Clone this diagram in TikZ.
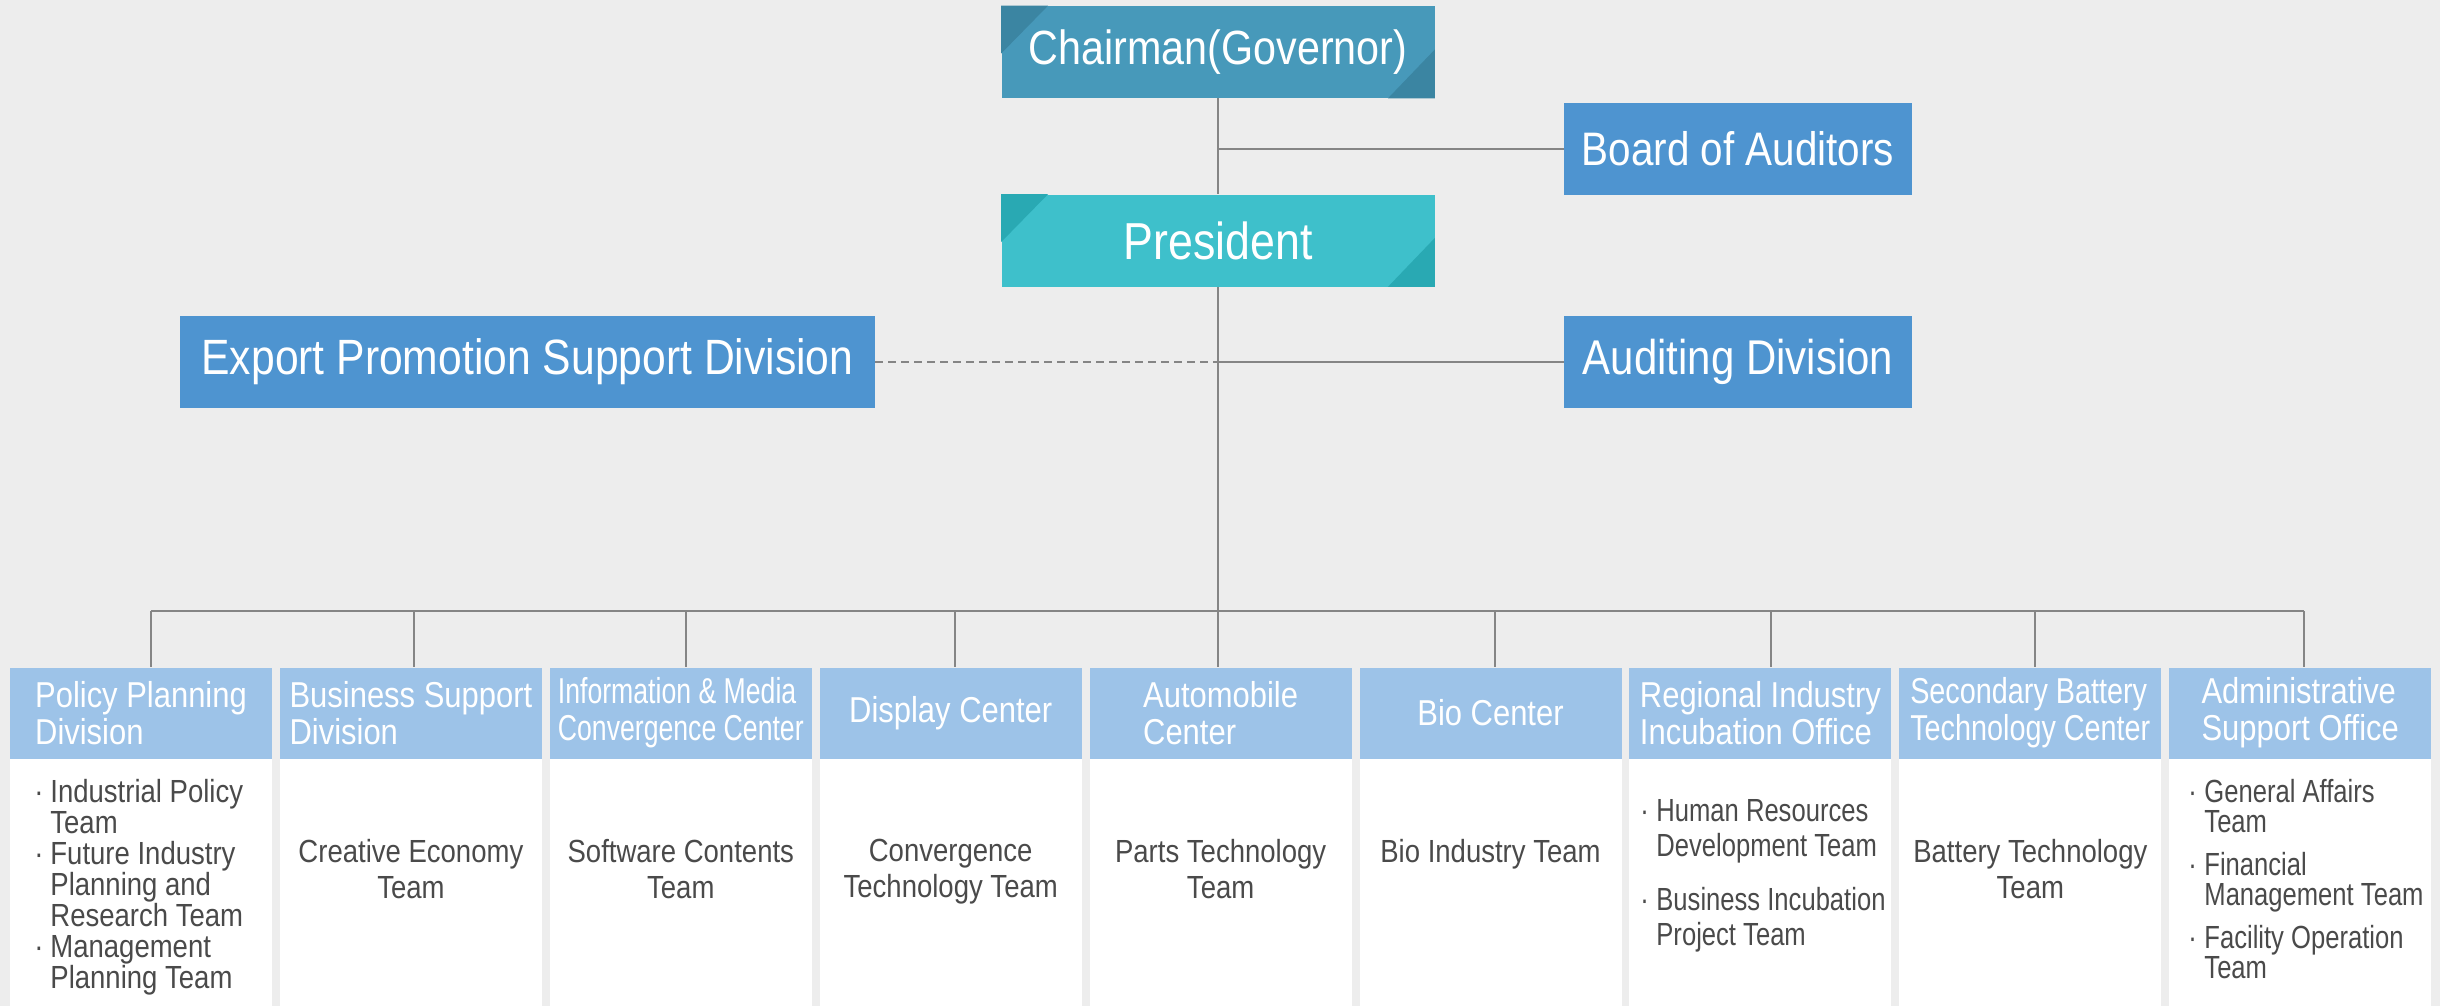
\documentclass[tikz,border=0pt]{standalone}
\usepackage{fontspec}
\setmainfont{Liberation Sans}[FakeStretch=0.86]
\newfontfamily\narrowA{Liberation Sans}[FakeStretch=0.74]
\newfontfamily\narrowB{Liberation Sans}[FakeStretch=0.80]
\usetikzlibrary{calc}
\definecolor{bgc}{HTML}{EDEDED}
\definecolor{chairc}{HTML}{4799BA}
\definecolor{chairdk}{HTML}{3B85A2}
\definecolor{presc}{HTML}{3EC0CB}
\definecolor{presdk}{HTML}{29A9B3}
\definecolor{bluec}{HTML}{4E94D0}
\definecolor{hdrc}{HTML}{9DC3E8}
\definecolor{linec}{HTML}{858585}
\definecolor{txtc}{HTML}{4A4A4A}
\newcommand{\orgbul}{\makebox[8pt][l]{·}}
\newcommand{\orgind}{\hspace*{8pt}}
\begin{document}
\begin{tikzpicture}[x=0.5pt,y=-0.5pt,
  topbox/.style={minimum width=216.5pt,minimum height=46pt,inner sep=0pt,text=white,font=\fontsize{24}{28}\selectfont},
  bluebox/.style={fill=bluec,minimum height=46pt,inner sep=0pt,text=white,font=\fontsize{24.4}{28}\selectfont},
  hdr/.style={fill=hdrc,minimum width=131pt,minimum height=45.5pt,inner sep=0pt,text=white,align=left,font=\fontsize{18}{18.5}\selectfont},
  bodybox/.style={fill=white,minimum width=131pt,minimum height=124.5pt,inner sep=0pt,anchor=north},
  bodytxt/.style={inner sep=0pt,text=txtc},
  conn/.style={draw=linec,line width=0.9pt}]
\fill[bgc] (0,0) rectangle (2440,1006);
\useasboundingbox (0,0) rectangle (2440,1006);

% top boxes
\node[topbox,fill=chairc] (chair) at (1218,52) {};
\fill[chairdk] (chair.north west) -- ($(chair.north west)+(47,0)$) -- ($(chair.north west)+(0,48)$) -- cycle;
\fill[chairdk] (chair.south east) -- ($(chair.south east)+(0,-49)$) -- ($(chair.south east)+(-47,0)$) -- cycle;
\node[topbox] at (chair.center) {Chairman(Governor)};

\node[topbox,fill=presc] (pres) at (1218,240.5) {};
\fill[presdk] (pres.north west) -- ($(pres.north west)+(47,0)$) -- ($(pres.north west)+(0,48)$) -- cycle;
\fill[presdk] (pres.south east) -- ($(pres.south east)+(0,-49)$) -- ($(pres.south east)+(-47,0)$) -- cycle;
\node[topbox,font=\fontsize{26}{30}\selectfont] at (pres.center) {President};

\node[bluebox,minimum width=174pt,font=\fontsize{23.5}{28}\selectfont] (board) at (1738,149) {Board of Auditors};
\node[bluebox,minimum width=347.5pt,font=\fontsize{24.8}{28}\selectfont] (export) at (527.5,362) {Export Promotion Support Division};
\node[bluebox,minimum width=174pt] (audit) at (1738,362) {Auditing Division};

% connectors top
\draw[conn] (chair.south) -- (pres.north);
\draw[conn] (chair.south |- board.west) -- (board.west);
\draw[conn] (pres.south |- audit.west) -- (audit.west);
\draw[conn,dash pattern=on 4pt off 2.5pt] (export.east) -- (pres.south |- export.east);

% headers
\node[hdr] (h1) at (141,713) {Policy Planning\\Division};
\node[hdr] (h2) at (410.9,713) {Business Support\\Division};
\node[hdr,font=\narrowA\fontsize{18}{18.5}\selectfont] (h3) at (680.8,713) {Information \& Media\\Convergence Center};
\node[hdr] (h4) at (950.7,713) {Display Center};
\node[hdr] (h5) at (1220.6,713) {Automobile\\Center};
\node[hdr] (h6) at (1490.5,713) {Bio Center};
\node[hdr] (h7) at (1760.4,713) {Regional Industry\\Incubation Office};
\node[hdr,font=\narrowB\fontsize{18}{18.5}\selectfont] (h8) at (2030.3,713) {Secondary Battery\\Technology Center};
\node[hdr] (h9) at (2300.2,713) {Administrative\\Support Office};

% bodies
\node[bodybox] (b1) at (141,758.5) {};
\node[bodybox] (b2) at (410.9,758.5) {};
\node[bodybox] (b3) at (680.8,758.5) {};
\node[bodybox] (b4) at (950.7,758.5) {};
\node[bodybox] (b5) at (1220.6,758.5) {};
\node[bodybox] (b6) at (1490.5,758.5) {};
\node[bodybox] (b7) at (1760.4,758.5) {};
\node[bodybox] (b8) at (2030.3,758.5) {};
\node[bodybox] (b9) at (2300.2,758.5) {};

% body texts
\node[bodytxt,anchor=north west,align=left,font=\fontsize{16}{15.5}\selectfont] (t1) at (34,779)
  {\orgbul Industrial Policy\\\orgind Team\\\orgbul Future Industry\\\orgind Planning and\\\orgind Research Team\\\orgbul Management\\\orgind Planning Team};
\node[bodytxt,anchor=north,align=center,font=\fontsize{16}{18}\selectfont] (t2) at (410.9,839) {Creative Economy\\Team};
\node[bodytxt,anchor=north,align=center,font=\fontsize{16}{18}\selectfont] (t3) at (680.8,839) {Software Contents\\Team};
\node[bodytxt,anchor=north,align=center,font=\fontsize{16}{18}\selectfont] (t4) at (950.7,839) {Convergence\\Technology Team};
\node[bodytxt,anchor=north,align=center,font=\fontsize{16}{18}\selectfont] (t5) at (1220.6,839) {Parts Technology\\Team};
\node[bodytxt,anchor=north,align=center,font=\fontsize{16}{18}\selectfont] (t6) at (1490.5,839) {Bio Industry Team};
\node[bodytxt,anchor=north west,align=left,font=\narrowB\fontsize{16}{17.75}\selectfont] (t7) at (1640,799)
  {\orgbul Human Resources\\\orgind Development Team\\[9pt]\orgbul Business Incubation\\\orgind Project Team};
\node[bodytxt,anchor=north,align=center,font=\fontsize{16}{18}\selectfont] (t8) at (2030.3,839) {Battery Technology\\Team};
\node[bodytxt,anchor=north west,align=left,font=\narrowB\fontsize{16}{15}\selectfont] (t9) at (2188,779)
  {\orgbul General Affairs\\\orgind Team\\[6.5pt]\orgbul Financial\\\orgind Management Team\\[6.5pt]\orgbul Facility Operation\\\orgind Team};

% bus
\coordinate (d1) at (151,611);
\coordinate (d2) at (414,611);
\coordinate (d3) at (686,611);
\coordinate (d4) at (955,611);
\coordinate (d5) at (1218,611);
\coordinate (d6) at (1495,611);
\coordinate (d7) at (1771,611);
\coordinate (d8) at (2035,611);
\coordinate (d9) at (2304,611);
\draw[conn] (pres.south) -- (d5);
\draw[conn] (d1) -- (d9);
\foreach \i in {1,...,9} {\draw[conn] (d\i) -- (d\i |- h\i.north);}
\end{tikzpicture}
\end{document}
